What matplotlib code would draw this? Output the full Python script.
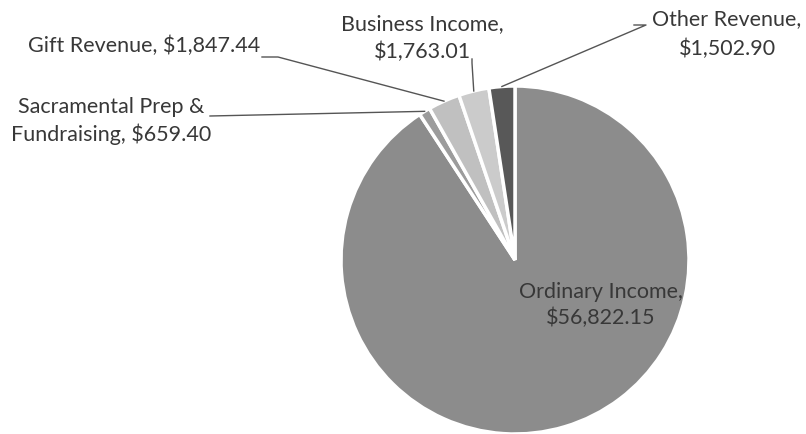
import numpy as np
import matplotlib.pyplot as plt

labels = ['Ordinary Income', 'Sacramental Prep &\nFundraising', 'Gift Revenue',
          'Business Income', 'Other Revenue']
values = [56822.15, 659.40, 1847.44, 1763.01, 1502.90]
colors = ['#8c8c8c', '#9c9c9c', '#c0c0c0', '#cbcbcb', '#585858']

W, H = 806, 435
CX, CY, R = 515, 261, 174

plt.rcParams['font.family'] = ['Lato', 'DejaVu Sans']

fig = plt.figure(figsize=(W / 100, H / 100), dpi=100)
ax = fig.add_axes([(CX - R) / W, 1 - (CY + R) / H, 2 * R / W, 2 * R / H])
wedges, _ = ax.pie(values, colors=colors, startangle=90, counterclock=False,
                   wedgeprops=dict(edgecolor='white', linewidth=2.5))
ax.set_xlim(-1, 1)
ax.set_ylim(-1, 1)
ax.set_aspect('equal')
ax.axis('off')


def pt(x, y):
    # picture pixels -> pie data coords
    return (x - CX) / R, (CY - y) / R


def fpos(x, y):
    return x / W, 1 - y / H


def money(v):
    return f'${v:,.2f}'


txt = dict(fontsize=15.5, color='#383838', ha='center', va='center')

# label positions and leader line starts (pixels)
fig.text(*fpos(601, 292), labels[0] + ',', **txt)
fig.text(*fpos(601, 318), money(values[0]), **txt)

fig.text(*fpos(111, 107), 'Sacramental Prep &', **txt)
fig.text(*fpos(111, 134), 'Fundraising, ' + money(values[1]), **txt)

fig.text(*fpos(144, 46), labels[2] + ', ' + money(values[2]), **txt)

fig.text(*fpos(422, 24), labels[3] + ',', **txt)
fig.text(*fpos(422, 52), money(values[3]), **txt)

fig.text(*fpos(727, 19), labels[4] + ',', **txt)
fig.text(*fpos(727, 49), money(values[4]), **txt)

starts = {1: [(210, 117)], 2: [(262, 58), (278, 58)], 3: [(472, 60), (472, 64)],
          4: [(634, 26), (646, 26)]}
for i, pts in starts.items():
    w = wedges[i]
    mid = np.deg2rad((w.theta1 + w.theta2) / 2)
    xs = [pt(*p)[0] for p in pts] + [np.cos(mid)]
    ys = [pt(*p)[1] for p in pts] + [np.sin(mid)]
    ax.plot(xs, ys, color='#555555', lw=1, clip_on=False)

fig.savefig('out.png', dpi=100)
